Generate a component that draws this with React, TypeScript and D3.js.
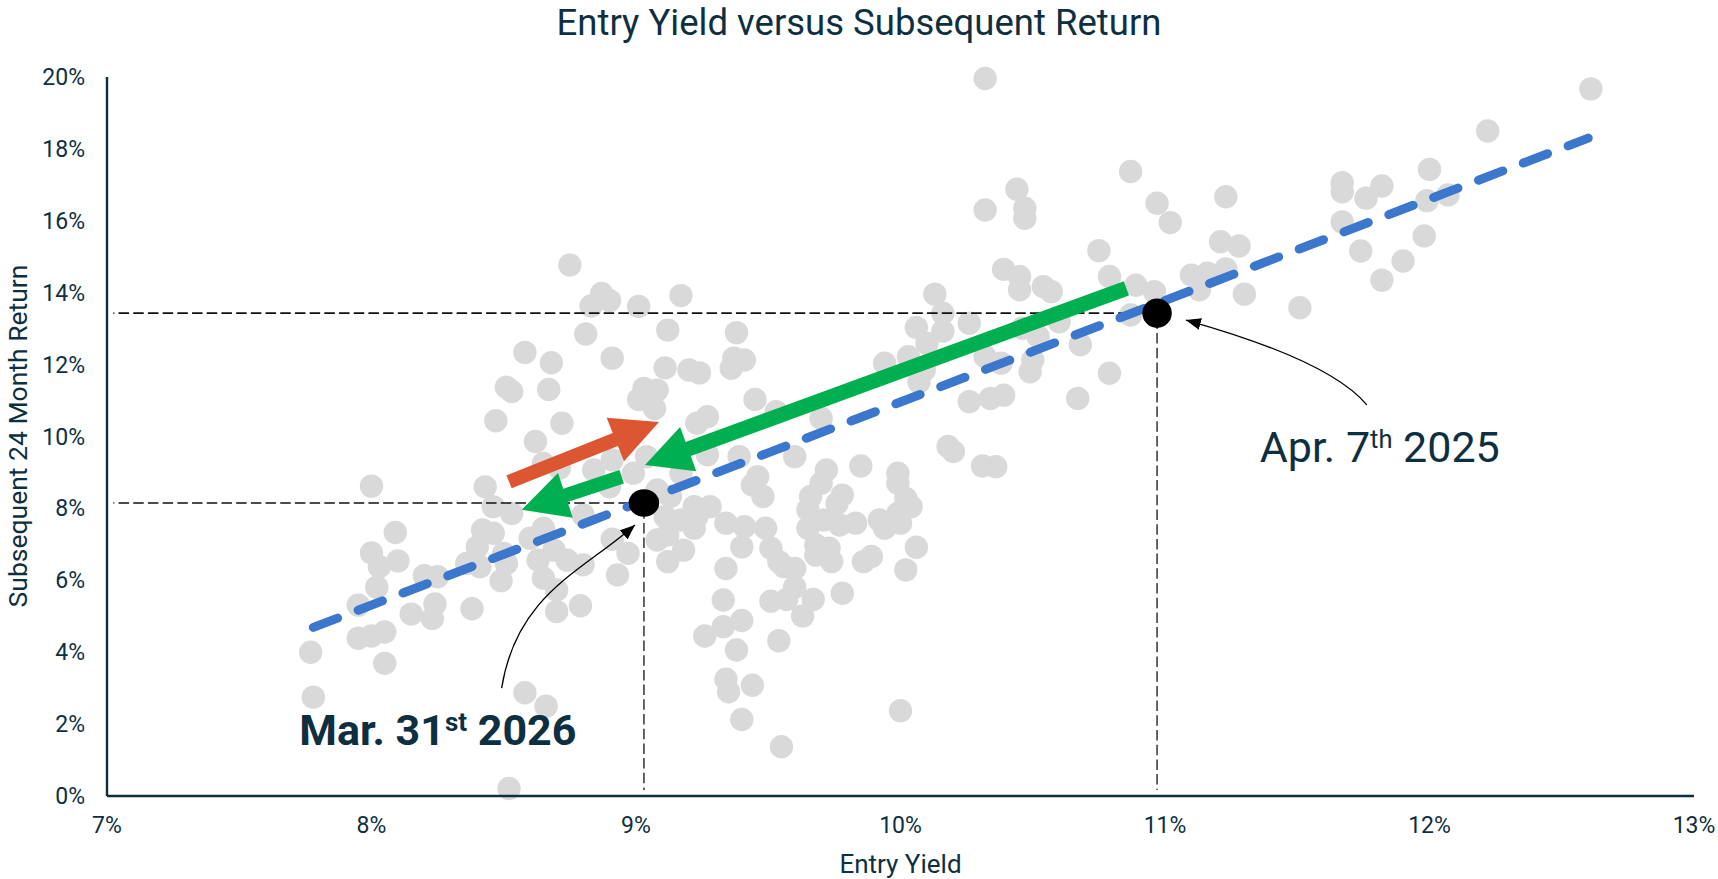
import React, { useEffect } from "react";
import * as d3 from "d3";

// ---------- data ----------
const xTicks = [7, 8, 9, 10, 11, 12, 13];
const yTicks = [0, 2, 4, 6, 8, 10, 12, 14, 16, 18, 20];

// [entry yield %, subsequent 24 month return %]
const scatterPoints: [number, number][] = [
  [7.77, 4.0], [7.78, 2.75], [8.0, 8.62], [8.09, 7.33], [8.0, 6.76], [8.03, 6.38], [8.1, 6.54],
  [8.02, 5.81], [8.2, 6.13], [8.25, 6.1], [7.95, 5.31], [8.15, 5.06], [8.24, 5.34], [8.23, 4.94],
  [7.95, 4.39], [8.0, 4.45], [8.05, 4.56], [8.05, 3.69], [8.38, 5.21], [8.42, 7.4], [8.4, 6.93],
  [8.46, 7.31], [8.36, 6.47], [8.41, 6.38], [8.5, 6.75], [8.51, 6.47], [8.49, 5.99], [8.46, 8.05],
  [8.53, 7.86], [8.65, 7.45], [8.6, 7.17], [8.63, 6.56], [8.69, 6.84], [8.74, 6.56], [8.8, 6.43],
  [8.65, 6.06], [8.7, 5.73], [8.7, 5.13], [8.79, 5.29], [8.91, 7.14], [8.97, 6.75], [8.93, 6.15],
  [9.08, 7.12], [9.12, 7.26], [9.12, 6.52], [9.18, 6.84], [9.22, 7.45], [9.24, 7.96], [9.26, 4.45],
  [8.58, 2.87], [8.66, 2.5], [8.52, 0.21], [8.8, 7.82],
  [8.75, 14.77], [8.87, 13.98], [8.9, 13.78], [8.83, 13.63], [9.01, 13.62], [9.17, 13.92],
  [8.81, 12.85], [9.12, 12.96], [8.58, 12.34], [8.68, 12.05], [8.91, 12.18], [9.11, 11.91],
  [9.2, 11.85], [9.24, 11.77], [8.51, 11.37], [8.53, 11.25], [8.67, 11.31], [9.03, 11.34],
  [9.08, 11.29], [9.01, 11.03], [9.07, 10.78], [8.47, 10.44], [8.72, 10.37], [9.23, 10.37],
  [8.62, 9.86], [8.65, 9.25], [8.71, 9.12], [8.84, 9.07], [8.91, 9.35], [8.99, 8.98], [9.04, 9.44],
  [8.9, 8.6], [8.43, 8.6], [9.08, 8.51], [9.13, 8.33], [9.22, 8.05], [9.27, 10.55],
  [10.75, 15.17], [10.39, 14.65], [10.45, 14.45], [10.45, 14.08], [10.54, 14.17], [10.57, 14.03],
  [10.13, 13.96], [10.16, 13.43], [10.06, 13.03], [10.16, 12.93], [10.26, 13.15], [10.46, 13.01],
  [10.52, 12.78], [10.6, 13.19], [10.68, 12.55], [10.79, 14.45], [9.38, 12.89], [9.37, 12.18],
  [9.41, 12.13], [9.36, 11.9], [9.94, 12.04], [10.03, 12.22], [10.1, 12.59], [10.09, 11.85],
  [10.07, 11.52], [10.32, 12.22], [10.38, 12.04], [10.5, 12.13], [10.49, 11.8], [10.79, 11.76],
  [10.67, 11.06], [10.26, 10.97], [10.34, 11.06], [10.39, 11.15], [9.45, 11.03], [9.53, 10.69],
  [9.7, 10.51], [9.39, 9.44], [9.27, 9.49], [9.6, 9.44], [10.18, 9.72], [10.2, 9.58], [10.31, 9.18],
  [10.36, 9.16], [9.85, 9.18], [9.72, 9.07], [9.46, 8.88], [9.44, 8.65], [9.48, 8.33], [9.99, 8.98],
  [9.99, 8.7], [9.7, 8.7], [9.66, 8.33], [9.78, 8.37], [9.65, 7.96], [10.02, 8.28], [10.04, 8.05],
  [9.28, 8.05], [9.23, 7.77], [9.34, 7.59], [9.41, 7.49], [9.49, 7.45], [9.71, 7.68], [9.83, 7.59],
  [9.92, 7.68], [10.0, 7.59], [9.4, 6.93], [9.51, 6.89], [9.34, 6.33], [9.33, 5.45], [9.56, 6.38],
  [9.6, 6.33], [9.6, 5.81], [9.51, 5.42], [9.57, 5.47], [9.67, 5.47], [9.63, 5.01], [9.78, 5.64],
  [9.65, 7.45], [9.76, 8.14], [9.77, 7.54], [9.68, 6.98], [9.68, 6.7], [9.73, 6.89], [9.74, 6.52],
  [9.86, 6.52], [9.89, 6.66], [9.94, 7.45], [9.99, 7.86], [10.06, 6.92], [10.02, 6.29],
  [9.33, 4.71], [9.4, 4.88], [9.38, 4.06], [9.54, 4.32], [9.34, 3.25], [9.35, 2.9], [9.44, 3.08],
  [9.4, 2.13], [9.55, 1.37], [10.0, 2.37], [9.54, 6.52], [9.11, 7.77], [9.17, 7.68], [9.17, 8.98],
  [10.32, 19.96], [10.87, 17.37], [10.44, 16.88], [10.47, 16.35], [10.47, 16.07], [10.32, 16.3],
  [10.89, 14.21], [12.61, 19.67], [12.22, 18.5], [12.0, 17.43], [11.67, 17.06], [11.67, 16.81],
  [11.82, 16.97], [11.76, 16.63], [11.99, 16.56], [12.07, 16.72], [11.67, 15.97], [11.98, 15.58],
  [11.74, 15.16], [11.9, 14.88], [11.82, 14.35], [11.51, 13.58], [10.97, 16.49], [11.02, 15.95],
  [11.23, 16.67], [11.21, 15.42], [11.28, 15.3], [10.96, 14.03], [11.1, 14.49], [11.16, 14.54],
  [11.23, 14.66], [11.13, 14.08], [11.3, 13.96], [10.87, 13.38],
];

// regression line end points
const trendLine: [number, number][] = [[7.78, 4.69], [12.6, 18.3]];

// highlighted dates
const aprPoint = { x: 10.97, y: 13.43 };
const marPoint = { x: 9.03, y: 8.15 };

// movement arrows [from, to]
const orangeArrow: [number, number][] = [[8.52, 8.74], [9.087, 10.4]];
const bigGreenArrow: [number, number][] = [[10.854, 14.12], [9.034, 9.21]];
const smallGreenArrow: [number, number][] = [[8.946, 8.88], [8.568, 7.96]];

// annotation connector curves (data coords)
const aprCurve: [number, number][] = [[11.763, 10.88], [11.622, 12.12], [11.079, 13.24]];
const marCurve: [number, number][] = [[8.492, 3.0], [8.548, 5.61], [8.798, 6.25], [8.996, 7.54]];
const aprLabelPos: [number, number] = [11.358, 9.3];
const marLabelPos: [number, number] = [7.727, 1.42];
const refLineStartX = 7.024;
const refLineEndY = 0.17;

// ---------- styles ----------
const W = 1718;
const H = 879;
const TEXT = "#0e2f3f";
const GRAY = "#d9d9d9";
const BLUE = "#3a77cd";
const GREEN = "#00b050";
const ORANGE = "#dc5632";
const FONT = "Roboto, 'Noto Sans', sans-serif";

function arrowPolygon(
  x1: number, y1: number, x2: number, y2: number,
  shaftW: number, headL: number, headW: number
) {
  const dx = x2 - x1, dy = y2 - y1;
  const len = Math.hypot(dx, dy);
  const ux = dx / len, uy = dy / len;
  const px = -uy, py = ux;
  const bx = x2 - ux * headL, by = y2 - uy * headL;
  const s = shaftW / 2, h = headW / 2;
  const pts = [
    [x1 + px * s, y1 + py * s],
    [bx + px * s, by + py * s],
    [bx + px * h, by + py * h],
    [x2, y2],
    [bx - px * h, by - py * h],
    [bx - px * s, by - py * s],
    [x1 - px * s, y1 - py * s],
  ];
  return pts.map((p) => p.join(",")).join(" ");
}

export default function App() {
  useEffect(() => {
    document.body.style.margin = "0";
  }, []);

  const x = d3.scaleLinear().domain([7, 13]).range([107, 1694]);
  const y = d3.scaleLinear().domain([0, 20]).range([796, 77]);

  const trendPath = d3.line<[number, number]>()
    .x((d) => x(d[0]))
    .y((d) => y(d[1]))(trendLine) || "";

  const aprP = d3.path();
  aprP.moveTo(x(aprCurve[0][0]), y(aprCurve[0][1]));
  aprP.quadraticCurveTo(x(aprCurve[1][0]), y(aprCurve[1][1]), x(aprCurve[2][0]), y(aprCurve[2][1]));

  const marP = d3.path();
  marP.moveTo(x(marCurve[0][0]), y(marCurve[0][1]));
  marP.bezierCurveTo(
    x(marCurve[1][0]), y(marCurve[1][1]),
    x(marCurve[2][0]), y(marCurve[2][1]),
    x(marCurve[3][0]), y(marCurve[3][1])
  );

  const arrow = (a: [number, number][], shaft: number, headL: number, headW: number) =>
    arrowPolygon(x(a[0][0]), y(a[0][1]), x(a[1][0]), y(a[1][1]), shaft, headL, headW);

  return (
    <svg
      width={W}
      height={H}
      viewBox={`0 0 ${W} ${H}`}
      style={{ position: "absolute", left: 0, top: 0, display: "block", background: "#fff" }}
      fontFamily={FONT}
    >
      <defs>
        <marker
          id="annoHead"
          viewBox="0 0 10 10"
          refX="10"
          refY="5"
          markerWidth="15"
          markerHeight="12"
          markerUnits="userSpaceOnUse"
          preserveAspectRatio="none"
          orient="auto"
        >
          <path d="M0,0 L10,5 L0,10 z" fill="#000" />
        </marker>
      </defs>

      {/* title */}
      <text x={W / 2} y={34.5} textAnchor="middle" fontSize={36.5} fill={TEXT}>
        Entry Yield versus Subsequent Return
      </text>

      {/* scatter */}
      <g>
        {scatterPoints.map((d, i) => (
          <circle key={i} cx={x(d[0])} cy={y(d[1])} r={11.7} fill={GRAY} />
        ))}
      </g>

      {/* reference dashed lines */}
      <g stroke="#111" strokeWidth={1.7} strokeDasharray="10.5 4.2" strokeDashoffset={9.5} fill="none">
        <line x1={x(refLineStartX)} x2={x(aprPoint.x)} y1={y(aprPoint.y)} y2={y(aprPoint.y)} />
        <line x1={x(aprPoint.x)} x2={x(aprPoint.x)} y1={y(aprPoint.y)} y2={y(refLineEndY)} stroke="#333" strokeWidth={1.5} />
        <line x1={x(refLineStartX)} x2={x(marPoint.x)} y1={y(marPoint.y)} y2={y(marPoint.y)} />
        <line x1={x(marPoint.x)} x2={x(marPoint.x)} y1={y(marPoint.y)} y2={y(refLineEndY)} stroke="#333" strokeWidth={1.5} />
      </g>

      {/* trend line */}
      <path
        d={trendPath}
        stroke={BLUE}
        strokeWidth={9}
        strokeLinecap="round"
        strokeDasharray="26 22"
        fill="none"
      />

      {/* movement arrows */}
      <polygon points={arrow(orangeArrow, 14, 47, 47)} fill={ORANGE} />
      <polygon points={arrow(bigGreenArrow, 15, 46, 47)} fill={GREEN} />
      <polygon points={arrow(smallGreenArrow, 14, 46, 47)} fill={GREEN} />

      {/* highlighted points */}
      <circle cx={x(aprPoint.x)} cy={y(aprPoint.y)} r={14.7} fill="#000" />
      <ellipse cx={x(marPoint.x)} cy={y(marPoint.y)} rx={15.3} ry={13.8} fill="#000" />

      {/* annotation connectors */}
      <path d={aprP.toString()} stroke="#000" strokeWidth={1.3} fill="none" markerEnd="url(#annoHead)" />
      <path d={marP.toString()} stroke="#000" strokeWidth={1.3} fill="none" markerEnd="url(#annoHead)" />

      {/* annotation labels */}
      <text x={x(aprLabelPos[0])} y={y(aprLabelPos[1])} fontSize={43} fill={TEXT}>
        Apr. 7
        <tspan fontSize={25.5} dy={-14}>th</tspan>
        <tspan dy={14}> 2025</tspan>
      </text>
      <text x={x(marLabelPos[0])} y={y(marLabelPos[1])} fontSize={43} fontWeight="bold" fill={TEXT}>
        Mar. 31
        <tspan fontSize={26} dy={-14}>st</tspan>
        <tspan dy={14}> 2026</tspan>
      </text>

      {/* axes */}
      <line x1={x(7)} x2={x(7)} y1={y(20)} y2={y(0)} stroke={TEXT} strokeWidth={2.4} />
      <line x1={x(7)} x2={x(13)} y1={y(0)} y2={y(0)} stroke={TEXT} strokeWidth={2.6} />

      {/* tick labels */}
      <g fontSize={23} fill={TEXT}>
        {yTicks.map((t) => (
          <text key={t} x={85} y={y(t)} dy="0.35em" textAnchor="end">
            {`${t}%`}
          </text>
        ))}
        {xTicks.map((t) => (
          <text key={t} x={x(t)} y={833} textAnchor="middle">
            {`${t}%`}
          </text>
        ))}
      </g>

      {/* axis titles */}
      <text x={x(10)} y={873} textAnchor="middle" fontSize={26} fill={TEXT}>
        Entry Yield
      </text>
      <text
        transform={`translate(27, 436) rotate(-90)`}
        textAnchor="middle"
        fontSize={26.5}
        fill={TEXT}
      >
        Subsequent 24 Month Return
      </text>
    </svg>
  );
}
